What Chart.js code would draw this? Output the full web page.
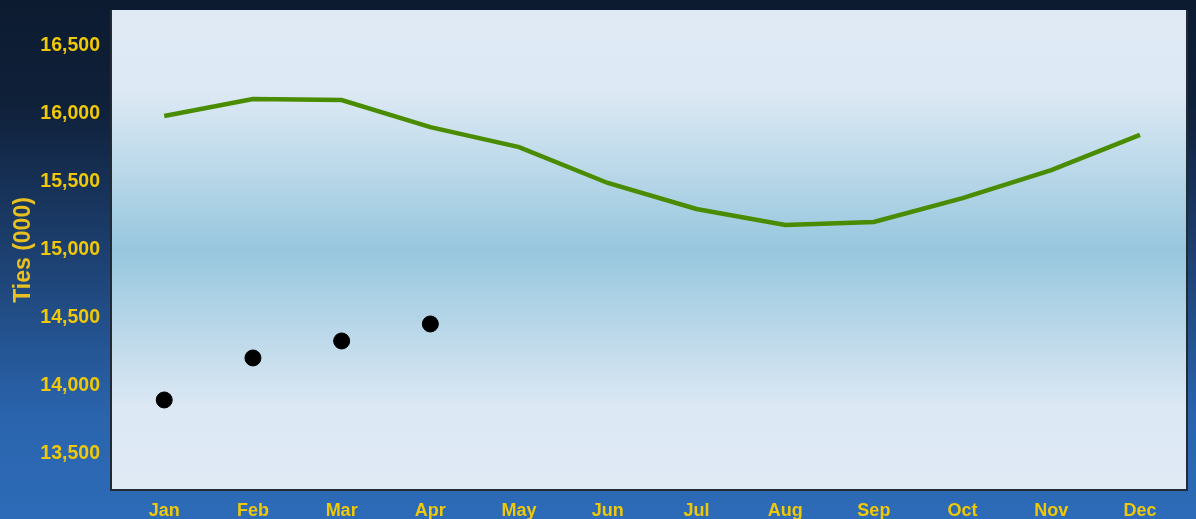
<!DOCTYPE html>
<html>
<head>
<meta charset="utf-8">
<script src="https://cdn.jsdelivr.net/npm/chart.js@4/dist/chart.umd.min.js"></script>
<style>
  html, body { margin: 0; padding: 0; background: #0c1b30; }
  #wrap { width: 1196px; height: 519px; }
</style>
</head>
<body>
<div id="wrap"><canvas id="myChart" width="1196" height="519"></canvas></div>
<script>
// months on the x axis
const months = ["Jan", "Feb", "Mar", "Apr", "May", "Jun", "Jul", "Aug", "Sep", "Oct", "Nov", "Dec"];
// green line (thousands)
const trendValues = [15985, 16110, 16103, 15904, 15757, 15493, 15302, 15184, 15206, 15382, 15588, 15846];
// black dots, only Jan-Apr
const actualValues = [13897, 14206, 14331, 14456];
const yTicks = [13500, 14000, 14500, 15000, 15500, 16000, 16500];

const yellow = "#f0c808";

// page + panel backgrounds
const backdrop = {
  id: "backdrop",
  beforeDraw(chart) {
    const { ctx, chartArea: a, width, height } = chart;
    ctx.save();
    let g = ctx.createLinearGradient(0, 0, 0, height);
    g.addColorStop(0, "#0c1b30");
    g.addColorStop(0.2, "#0f2039");
    g.addColorStop(0.5, "#1d4172");
    g.addColorStop(0.8, "#2a64ad");
    g.addColorStop(1, "#2d6bb8");
    ctx.fillStyle = g;
    ctx.fillRect(0, 0, width, height);

    g = ctx.createLinearGradient(0, a.top, 0, a.bottom);
    g.addColorStop(0, "#dfeaf5");
    g.addColorStop(0.17, "#dde9f4");
    g.addColorStop(0.5, "#97c7de");
    g.addColorStop(0.83, "#dce8f4");
    g.addColorStop(1, "#dfeaf5");
    ctx.fillStyle = g;
    ctx.fillRect(a.left, a.top, a.right - a.left, a.bottom - a.top);

    ctx.strokeStyle = "#222a33";
    ctx.lineWidth = 2;
    ctx.beginPath();
    ctx.moveTo(a.left, a.top);
    ctx.lineTo(a.left, a.bottom);
    ctx.lineTo(a.right, a.bottom);
    ctx.lineTo(a.right, a.top);
    ctx.stroke();
    ctx.restore();
  }
};

const chart = new Chart(document.getElementById("myChart").getContext("2d"), {
  type: "line",
  data: {
    datasets: [
      {
        label: "Trend",
        data: trendValues.map((v, i) => ({ x: i, y: v })),
        borderColor: "#4a8c00",
        borderWidth: 4.5,
        pointRadius: 0,
        tension: 0,
        fill: false
      },
      {
        type: "scatter",
        label: "Actual",
        data: actualValues.map((v, i) => ({ x: i, y: v })),
        backgroundColor: "#000000",
        borderColor: "#000000",
        pointRadius: 8,
        showLine: false
      }
    ]
  },
  options: {
    responsive: false,
    animation: false,
    layout: { padding: { top: 10, right: 7, left: 0, bottom: 0 } },
    plugins: { legend: { display: false }, tooltip: { enabled: false } },
    scales: {
      x: {
        type: "linear",
        min: -0.6,
        max: 11.53,
        afterBuildTicks: s => { s.ticks = months.map((m, i) => ({ value: i })); },
        afterFit: s => { s.height = 29; },
        grid: { display: false, drawTicks: true, tickLength: 5, tickColor: "#333b44" },
        border: { display: false },
        ticks: {
          callback: v => months[v],
          color: yellow,
          font: { family: "Liberation Sans", weight: "bold", size: 18 },
          padding: 5,
          maxRotation: 0,
          autoSkip: false
        }
      },
      y: {
        min: 13235,
        max: 16765,
        afterBuildTicks: s => { s.ticks = yTicks.map(v => ({ value: v })); },
        afterFit: s => { s.width = 111; s.paddingTop = 0; s.paddingBottom = 0; },
        grid: { display: false, drawTicks: true, tickLength: 5, tickColor: "#b0a050" },
        border: { display: false },
        title: {
          display: true,
          text: "Ties (000)",
          color: "#e8c020",
          font: { family: "Liberation Sans", weight: "bold", size: 23 },
          padding: { top: 10, bottom: 0 }
        },
        ticks: {
          callback: v => v.toLocaleString("en-US"),
          color: yellow,
          font: { family: "Liberation Sans", weight: "bold", size: 19.5 },
          padding: 6
        }
      }
    }
  },
  plugins: [backdrop]
});
</script>
</body>
</html>
